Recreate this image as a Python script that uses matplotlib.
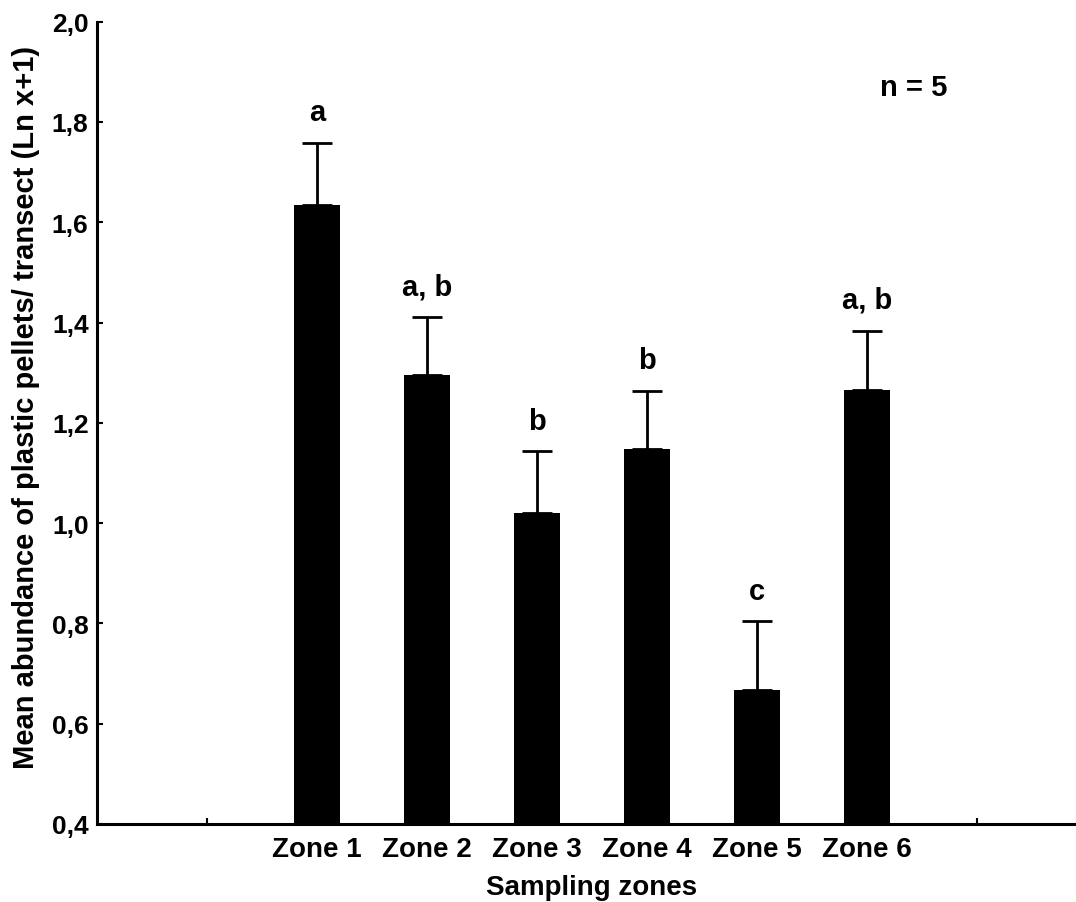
import matplotlib.pyplot as plt
import numpy as np

plt.rcParams['font.family'] = ['Liberation Sans', 'DejaVu Sans']
plt.rcParams['font.weight'] = 'bold'

# Mean abundance (Ln x+1) per zone, with standard error
zones = ['Zone 1', 'Zone 2', 'Zone 3', 'Zone 4', 'Zone 5', 'Zone 6']
means = [1.635, 1.296, 1.020, 1.147, 0.668, 1.266]
errors = [0.123, 0.115, 0.123, 0.117, 0.136, 0.118]
groups = ['a', 'a, b', 'b', 'b', 'c', 'a, b']

fig = plt.figure(figsize=(10.76, 9.03), dpi=100)
ax = fig.add_axes([0.0901, 0.0864, 0.9099, 0.8885])

x = np.arange(2, 2 + len(zones))
ax.bar(x, means, width=0.41, color='black', bottom=0, zorder=2)
ax.errorbar(x, means, yerr=[np.zeros(len(errors)), errors], fmt='none',
            ecolor='black', elinewidth=2, capsize=11, capthick=2, zorder=3)

# significance letters above each error bar
for xi, m, e, g in zip(x, means, errors, groups):
    ax.annotate(g, (xi, m + e), xytext=(0, 12), textcoords='offset points',
                ha='center', va='bottom', fontsize=21, fontweight='bold')

ax.text(7.42, 1.87, 'n = 5', ha='center', va='center', fontsize=21, fontweight='bold')

ax.set_xlim(0, 8.9)
ax.set_ylim(0.4, 2.0)
ax.set_xticks(x)
ax.set_xticklabels(zones)
ax.set_xticks([1, 8], minor=True)
ax.set_yticks(np.arange(0.4, 2.01, 0.2))
ax.set_yticklabels([f'{v:.1f}'.replace('.', ',') for v in np.arange(0.4, 2.01, 0.2)])

ax.tick_params(axis='x', which='major', length=0, pad=9, labelsize=20)
ax.tick_params(axis='x', which='minor', direction='in', length=4, width=1.5)
ax.tick_params(axis='y', direction='in', length=4, width=1.5, pad=6, labelsize=19)

for side in ['top', 'right']:
    ax.spines[side].set_visible(False)
for side in ['left', 'bottom']:
    ax.spines[side].set_linewidth(2.2)

ax.set_xlabel('Sampling zones', fontsize=20, fontweight='bold')
ax.set_ylabel('Mean abundance of plastic pellets/ transect (Ln x+1)', fontsize=21,
              fontweight='bold')
ax.xaxis.set_label_coords(0.5056, -0.062)
ax.yaxis.set_label_coords(-0.058, 0.52)

fig.savefig('out.png', dpi=100)
